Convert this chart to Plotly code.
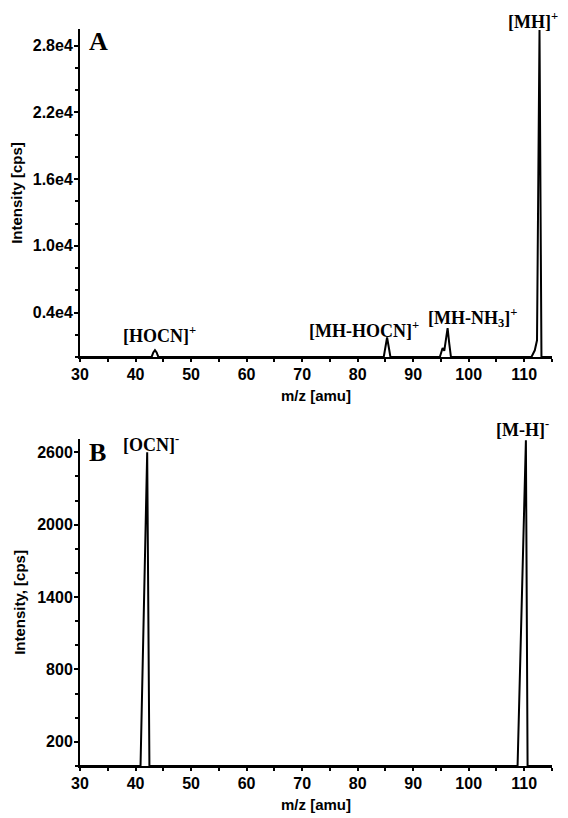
import plotly.graph_objects as go

# Panel A (positive mode)
mz_a = [30, 42.9, 43.2, 43.5, 43.8, 44.1, 84.7, 85.0, 85.3, 85.6, 85.9,
        94.8, 95.1, 95.3, 95.6, 95.9, 96.2, 96.5, 96.8,
        111.3, 111.9, 112.3, 112.75, 113.1, 115]
int_a = [0, 0, 400, 600, 400, 0, 0, 900, 1750, 900, 0,
         0, 600, 800, 550, 1500, 2600, 1200, 0,
         0, 600, 1500, 29400, 0, 0]

# Panel B (negative mode)
mz_b = [30, 40.9, 42.1, 42.5, 108.8, 110.3, 110.6, 115]
int_b = [0, 0, 2600, 0, 0, 2700, 0, 0]

ytick_a_vals = [4000, 10000, 16000, 22000, 28000]
ytick_a_text = ["0.4e4", "1.0e4", "1.6e4", "2.2e4", "2.8e4"]
ytick_b_vals = [200, 800, 1400, 2000, 2600]

# (x in m/z, y in paper fraction, text)
labels_a = [(44.4, 0.585, "[HOCN]<sup>+</sup>"),
            (81.1, 0.592, "[MH-HOCN]<sup>+</sup>"),
            (100.7, 0.608, "[MH-NH<sub>3</sub>]<sup>+</sup>"),
            (111.5, 1.012, "[MH]<sup>+</sup>")]
labels_b = [(42.8, 0.437, "[OCN]<sup>-</sup>"),
            (109.7, 0.4586, "[M-H]<sup>-</sup>")]

tickfont = dict(family="Liberation Sans, Arial", size=16, color="black", weight="bold")
titlefont = dict(family="Liberation Sans, Arial", size=15, color="black", weight="bold")
serif = dict(family="Liberation Serif, Times New Roman", size=18, color="black", weight="bold")
bigserif = dict(family="Liberation Serif, Times New Roman", size=26, color="black", weight="bold")

fig = go.Figure()
fig.add_trace(go.Scatter(x=mz_a, y=int_a, mode="lines", line=dict(color="black", width=2),
                         xaxis="x", yaxis="y", showlegend=False))
fig.add_trace(go.Scatter(x=mz_b, y=int_b, mode="lines", line=dict(color="black", width=2),
                         xaxis="x2", yaxis="y2", showlegend=False))

common_x = dict(range=[30, 115], tickmode="linear", tick0=30, dtick=10,
                ticks="outside", ticklen=3, tickwidth=1.5, tickcolor="black",
                showline=True, linecolor="black", linewidth=2, showgrid=False, zeroline=False,
                tickfont=tickfont, automargin=False, ticklabelstandoff=-1,
                minor=dict(dtick=5, ticks="outside", ticklen=3, tickcolor="black", tickwidth=1.5),
                title=dict(text="m/z [amu]", font=titlefont, standoff=8))
common_y = dict(ticks="outside", ticklen=4, tickwidth=1.5, tickcolor="black",
                showline=True, linecolor="black", linewidth=2, showgrid=False, zeroline=False,
                tickfont=tickfont, automargin=False, ticklabelstandoff=-2)

# page body has an 8px offset, margins compensate for it
fig.update_layout(
    width=568, height=818,
    margin=dict(l=72, r=24, t=21, b=60),
    paper_bgcolor="white", plot_bgcolor="white",
    xaxis=dict(common_x, domain=[0, 1], anchor="y"),
    yaxis=dict(common_y, domain=[0.555, 1], range=[0, 29500],
               tickmode="array", tickvals=ytick_a_vals, ticktext=ytick_a_text,
               minor=dict(dtick=2000, tick0=0, ticks="outside", ticklen=3, tickcolor="black", tickwidth=1.5),
               title=dict(text="Intensity [cps]", font=titlefont, standoff=8)),
    xaxis2=dict(common_x, domain=[0, 1], anchor="y2"),
    yaxis2=dict(common_y, domain=[0, 0.4437], range=[0, 2710],
                tickmode="array", tickvals=ytick_b_vals,
                minor=dict(dtick=200, tick0=0, ticks="outside", ticklen=3, tickcolor="black", tickwidth=1.5),
                title=dict(text="Intensity, [cps]", font=titlefont, standoff=8)),
)

annotations = []
for x, y, t in labels_a:
    annotations.append(dict(x=x, y=y, xref="x", yref="paper", text=t, showarrow=False,
                            font=serif, xanchor="center", yanchor="middle"))
for x, y, t in labels_b:
    annotations.append(dict(x=x, y=y, xref="x2", yref="paper", text=t, showarrow=False,
                            font=serif, xanchor="center", yanchor="middle"))
annotations.append(dict(x=31.3, y=0.983, xref="x", yref="paper", text="A", showarrow=False,
                        font=bigserif, xanchor="left", yanchor="middle"))
annotations.append(dict(x=31.3, y=0.426, xref="x2", yref="paper", text="B", showarrow=False,
                        font=bigserif, xanchor="left", yanchor="middle"))
fig.update_layout(annotations=annotations)

fig.write_html("out.html")
